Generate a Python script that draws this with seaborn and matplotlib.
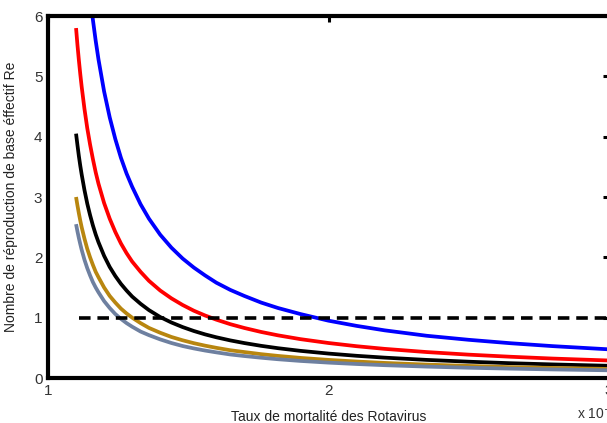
import matplotlib
matplotlib.use("Agg")
import matplotlib.pyplot as plt
import seaborn as sns
import pandas as pd

# --- data ---
mortalite = [1.10, 1.105, 1.11, 1.115, 1.12, 1.13, 1.14, 1.15, 1.16, 1.17,
             1.18, 1.20, 1.22, 1.24, 1.26, 1.28, 1.30, 1.33, 1.36, 1.40,
             1.44, 1.48, 1.52, 1.56, 1.60, 1.65, 1.70, 1.76, 1.82, 1.90,
             2.00, 2.10, 2.20, 2.35, 2.50, 2.65, 2.80, 3.00]
re_bleu = [9.5, 9.05, 8.64, 8.26, 7.92, 7.31, 6.79, 6.33, 5.94, 5.59,
           5.28, 4.75, 4.32, 3.96, 3.65, 3.39, 3.17, 2.88, 2.64, 2.375,
           2.16, 1.98, 1.83, 1.70, 1.58, 1.46, 1.36, 1.25, 1.16, 1.06,
           0.95, 0.864, 0.79, 0.70, 0.633, 0.576, 0.528, 0.475]
re_rouge = [5.8, 5.52, 5.27, 5.04, 4.83, 4.46, 4.14, 3.87, 3.63, 3.41,
            3.22, 2.9, 2.64, 2.42, 2.23, 2.07, 1.93, 1.76, 1.61, 1.45,
            1.32, 1.21, 1.115, 1.036, 0.967, 0.892, 0.829, 0.763, 0.707, 0.644,
            0.58, 0.527, 0.483, 0.43, 0.387, 0.352, 0.322, 0.29]
re_noir = [4.05, 3.86, 3.68, 3.52, 3.375, 3.115, 2.89, 2.70, 2.53, 2.38,
           2.25, 2.025, 1.84, 1.69, 1.56, 1.45, 1.35, 1.23, 1.125, 1.01,
           0.92, 0.844, 0.779, 0.723, 0.675, 0.623, 0.579, 0.533, 0.494, 0.45,
           0.405, 0.368, 0.3375, 0.30, 0.27, 0.245, 0.225, 0.2025]
re_or = [3.0, 2.86, 2.73, 2.61, 2.5, 2.31, 2.14, 2.0, 1.875, 1.76,
         1.67, 1.5, 1.36, 1.25, 1.15, 1.07, 1.0, 0.91, 0.83, 0.75,
         0.68, 0.625, 0.577, 0.536, 0.5, 0.46, 0.43, 0.395, 0.366, 0.333,
         0.30, 0.273, 0.25, 0.222, 0.20, 0.18, 0.167, 0.15]
re_gris = [2.55, 2.43, 2.32, 2.22, 2.125, 1.96, 1.82, 1.70, 1.59, 1.50,
           1.42, 1.275, 1.16, 1.06, 0.98, 0.91, 0.85, 0.77, 0.71, 0.64,
           0.58, 0.53, 0.49, 0.455, 0.425, 0.39, 0.364, 0.336, 0.311, 0.283,
           0.255, 0.232, 0.2125, 0.189, 0.17, 0.155, 0.142, 0.1275]
seuil_x = [1.11, 3.0]
seuil_y = [1.0, 1.0]

series = [
    ("bleu", re_bleu, "#0000ff"),
    ("rouge", re_rouge, "#ff0000"),
    ("noir", re_noir, "#000000"),
    ("or", re_or, "#b8860f"),
    ("gris", re_gris, "#6e80a0"),
]

sns.set_style("white")
plt.rcParams["font.family"] = ["Liberation Sans", "DejaVu Sans"]

fig = plt.figure(figsize=(6.07, 4.23), dpi=100)
ax = fig.add_axes([48 / 607, 45 / 423, 561 / 607, 362 / 423])

lw = 2.7
for name, vals, col in series:
    df = pd.DataFrame({"x": mortalite, "y": vals})
    sns.lineplot(data=df, x="x", y="y", ax=ax, color=col, linewidth=lw,
                 sort=False, estimator=None, solid_capstyle="butt")

sns.lineplot(x=seuil_x, y=seuil_y, ax=ax, color="black", linewidth=2.6,
             estimator=None, sort=False, dashes=False)
ax.lines[-1].set_dashes([3.2, 1.9])

ax.set_xlim(1, 3)
ax.set_ylim(0, 6)
ax.set_xticks([1, 2, 3])
ax.set_xticklabels(["1", "2", "3"])
ax.set_yticks([0, 1, 2, 3, 4, 5, 6])
ax.tick_params(direction="in", length=4, width=2.2, top=True, right=True,
               labelsize=11, labelcolor="#333333", pad=4, color="black")
for s in ax.spines.values():
    s.set_linewidth(3)
    s.set_color("black")

ax.set_xlabel("Taux de mortalité des Rotavirus", fontsize=10, color="#222222")
ax.set_ylabel("Nombre de réproduction de base éffectif Re", fontsize=10,
              color="#222222")
ax.xaxis.set_label_coords(0.5, -0.088)
ax.yaxis.set_label_coords(-0.054, 0.5)

fig.text(577 / 607, 1 - 413 / 423, "x 10$^{-4}$", fontsize=10, color="#333333",
         va="center", ha="left")

fig.savefig("out.png", dpi=100)
